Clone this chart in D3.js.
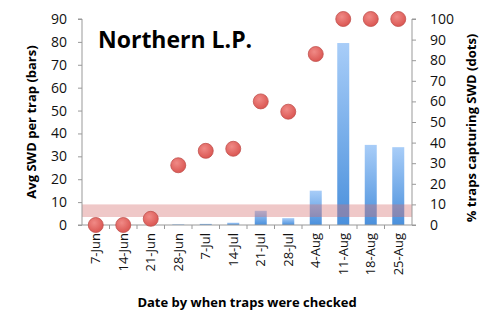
<!DOCTYPE html>
<html><head><meta charset="utf-8">
<script src="https://cdn.jsdelivr.net/npm/d3@7"></script>
<style>body{margin:0;background:#fff;} text{font-family:"Open Sans","Lato",sans-serif;}</style>
</head><body>
<svg id="c" width="500" height="325"></svg>
<script>
const categories = ["7-Jun","14-Jun","21-Jun","28-Jun","7-Jul","14-Jul","21-Jul","28-Jul","4-Aug","11-Aug","18-Aug","25-Aug"];
const avgSWD = [0,0,0,0.3,0.5,1,6.2,3,15,79.5,35,34];
const pctTraps = [0,0,3,29,36,37,60,55,83,100,100,100];
const leftTicks = [0,10,20,30,40,50,60,70,80,90];
const rightTicks = [0,10,20,30,40,50,60,70,80,90,100];
const band = [3.5, 9];

const svg = d3.select("#c");
const L=82, R=412, T=19, B=225;
const x = d3.scaleBand().domain(categories).range([L,R]);
const yL = d3.scaleLinear().domain([0,90]).range([B,T]);
const yR = d3.scaleLinear().domain([0,100]).range([B,T]);

const defs = svg.append("defs");
const g = defs.append("linearGradient").attr("id","bg").attr("x1",0).attr("y1",0).attr("x2",0).attr("y2",1);
g.append("stop").attr("offset","0%").attr("stop-color","#a8cdf8");
g.append("stop").attr("offset","100%").attr("stop-color","#4a90dc");
const rg = defs.append("radialGradient").attr("id","dg").attr("cx","40%").attr("cy","35%").attr("r","70%");
rg.append("stop").attr("offset","0%").attr("stop-color","#f08a86");
rg.append("stop").attr("offset","100%").attr("stop-color","#d9534f");

// bars
const bw = 12;
svg.append("g").selectAll("rect").data(categories).join("rect")
  .attr("x", d=>x(d)+x.bandwidth()/2-bw/2)
  .attr("y", (d,i)=>yL(avgSWD[i]))
  .attr("width", bw)
  .attr("height", (d,i)=>B-yL(avgSWD[i]))
  .attr("fill","url(#bg)");

// threshold band
svg.append("rect").attr("x",L).attr("width",R-L)
  .attr("y",yL(band[1])).attr("height",yL(band[0])-yL(band[1]))
  .attr("fill","rgba(214,110,110,0.38)");

// axes
const axL = svg.append("g").attr("transform",`translate(${L},0)`)
  .call(d3.axisLeft(yL).tickValues(leftTicks).tickSize(4).tickPadding(11));
const axR = svg.append("g").attr("transform",`translate(${R},0)`)
  .call(d3.axisRight(yR).tickValues(rightTicks).tickSize(4).tickPadding(14));
const axX = svg.append("g").attr("transform",`translate(0,${B})`)
  .call(d3.axisBottom(x).tickSize(0).tickPadding(8));
// ticks at band boundaries
svg.append("g").selectAll("line").data(categories.slice(1)).join("line")
  .attr("x1",d=>x(d)).attr("x2",d=>x(d)).attr("y1",B).attr("y2",B+4)
  .attr("stroke","#999");
[axL,axR,axX].forEach(a=>{
  a.selectAll("path").attr("stroke","#999");
  a.selectAll("line").attr("stroke","#999");
  a.selectAll("text").attr("fill","#111").style("font-size","14px");
});
axL.select("path").attr("d",`M-4,${B}H0V${T}H-4`);
axR.select("path").attr("d",`M4,${B}H0V${T}H4`);
axX.select("path").attr("d",`M${L},0H${R}`);
axX.selectAll("text")
  .style("font-size","13px")
  .attr("transform","rotate(-90)")
  .attr("text-anchor","end")
  .attr("dy","0.35em")
  .attr("x",-8).attr("y",0);

// dots
svg.append("g").selectAll("circle").data(categories).join("circle")
  .attr("cx", d=>x(d)+x.bandwidth()/2)
  .attr("cy", (d,i)=>yR(pctTraps[i]))
  .attr("r",7.5)
  .attr("fill","url(#dg)")
  .attr("stroke","#c0504d").attr("stroke-width",0.8);

// titles
svg.append("text").attr("x",98).attr("y",48).text("Northern L.P.")
  .style("font-size","23px").style("font-weight","bold").attr("fill","#000");
svg.append("text").attr("transform","translate(36,122) rotate(-90)")
  .attr("text-anchor","middle").style("font-size","13px").style("font-weight","bold")
  .text("Avg SWD per trap (bars)");
svg.append("text").attr("transform","translate(476,128) rotate(-90)")
  .attr("text-anchor","middle").style("font-size","13px").style("font-weight","bold")
  .text("% traps capturing SWD (dots)");
svg.append("text").attr("x",247).attr("y",307).attr("text-anchor","middle")
  .style("font-size","13px").style("font-weight","bold")
  .text("Date by when traps were checked");
</script>
</body></html>
